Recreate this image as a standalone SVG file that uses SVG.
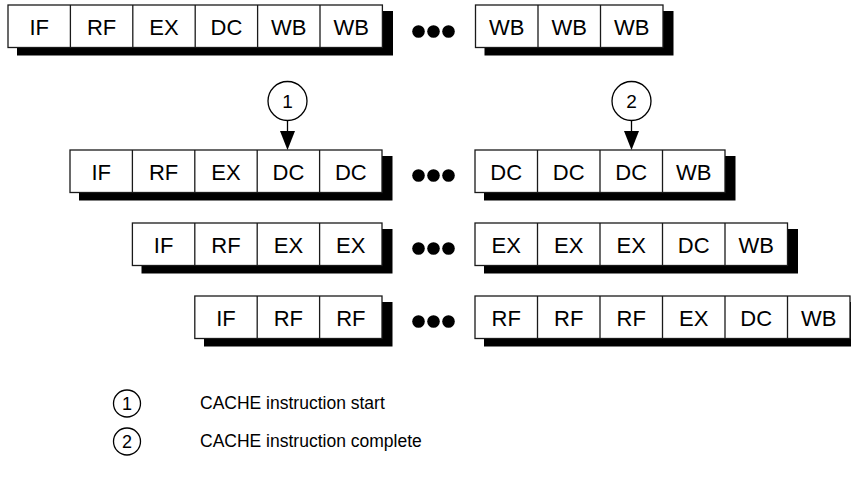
<svg xmlns="http://www.w3.org/2000/svg" width="851" height="482" viewBox="0 0 851 482">
<style>
.sh{fill:#000}
.box{fill:#fff;stroke:#1a1a1a;stroke-width:1.3}
.div{stroke:#1a1a1a;stroke-width:1.3}
.t{font-family:"Liberation Sans",Arial,sans-serif;font-size:22px;fill:#000;text-anchor:middle}
.n{font-family:"Liberation Sans",Arial,sans-serif;font-size:19px;fill:#000;text-anchor:middle}
.ln{font-family:"Liberation Sans",Arial,sans-serif;font-size:18px;fill:#000;text-anchor:middle}
.lg{font-family:"Liberation Sans",Arial,sans-serif;font-size:17.5px;fill:#000}
.c{fill:#fff;stroke:#000;stroke-width:1.3}
.dot{fill:#000}
.ar{stroke:#000;stroke-width:1.3;fill:none}
.ah{fill:#000}
</style>

<!-- Row 1 -->
<g id="row1-left">
<rect class="sh" x="17" y="11" width="376" height="44.5"/>
<rect class="box" x="8" y="5" width="374.4" height="42.5"/>
<line class="div" x1="70.4" y1="5" x2="70.4" y2="47.5"/><line class="div" x1="132.8" y1="5" x2="132.8" y2="47.5"/><line class="div" x1="195.2" y1="5" x2="195.2" y2="47.5"/><line class="div" x1="257.6" y1="5" x2="257.6" y2="47.5"/><line class="div" x1="320" y1="5" x2="320" y2="47.5"/>
<text class="t" x="39.2" y="34.5">IF</text><text class="t" x="101.6" y="34.5">RF</text><text class="t" x="164" y="34.5">EX</text><text class="t" x="226.4" y="34.5">DC</text><text class="t" x="288.8" y="34.5">WB</text><text class="t" x="351.2" y="34.5">WB</text>
</g>
<g id="row1-dots"><circle class="dot" cx="418.5" cy="31.5" r="6.3"/><circle class="dot" cx="433.5" cy="31.5" r="6.3"/><circle class="dot" cx="448.5" cy="31.5" r="6.3"/></g>
<g id="row1-right">
<rect class="sh" x="484.5" y="11" width="189" height="44.5"/>
<rect class="box" x="475.5" y="5" width="187.5" height="42.5"/>
<line class="div" x1="538" y1="5" x2="538" y2="47.5"/><line class="div" x1="600.5" y1="5" x2="600.5" y2="47.5"/>
<text class="t" x="506.75" y="34.5">WB</text><text class="t" x="569.25" y="34.5">WB</text><text class="t" x="631.75" y="34.5">WB</text>
</g>

<!-- Row 2 -->
<g id="row2-left">
<rect class="sh" x="79" y="156" width="313.5" height="44.5"/>
<rect class="box" x="70" y="150" width="312" height="42.5"/>
<line class="div" x1="132.4" y1="150" x2="132.4" y2="192.5"/><line class="div" x1="194.8" y1="150" x2="194.8" y2="192.5"/><line class="div" x1="257.2" y1="150" x2="257.2" y2="192.5"/><line class="div" x1="319.6" y1="150" x2="319.6" y2="192.5"/>
<text class="t" x="101.2" y="179.5">IF</text><text class="t" x="163.6" y="179.5">RF</text><text class="t" x="226" y="179.5">EX</text><text class="t" x="288.4" y="179.5">DC</text><text class="t" x="350.8" y="179.5">DC</text>
</g>
<g id="row2-dots"><circle class="dot" cx="418.5" cy="175.5" r="6.3"/><circle class="dot" cx="433.5" cy="175.5" r="6.3"/><circle class="dot" cx="448.5" cy="175.5" r="6.3"/></g>
<g id="row2-right">
<rect class="sh" x="484" y="156" width="251.5" height="44.5"/>
<rect class="box" x="475" y="150" width="250" height="42.5"/>
<line class="div" x1="537.5" y1="150" x2="537.5" y2="192.5"/><line class="div" x1="600" y1="150" x2="600" y2="192.5"/><line class="div" x1="662.5" y1="150" x2="662.5" y2="192.5"/>
<text class="t" x="506.25" y="179.5">DC</text><text class="t" x="568.75" y="179.5">DC</text><text class="t" x="631.25" y="179.5">DC</text><text class="t" x="693.75" y="179.5">WB</text>
</g>

<!-- Row 3 -->
<g id="row3-left">
<rect class="sh" x="141.5" y="229" width="251" height="44.5"/>
<rect class="box" x="132.4" y="223" width="249.6" height="42.5"/>
<line class="div" x1="194.8" y1="223" x2="194.8" y2="265.5"/><line class="div" x1="257.2" y1="223" x2="257.2" y2="265.5"/><line class="div" x1="319.6" y1="223" x2="319.6" y2="265.5"/>
<text class="t" x="163.6" y="252.5">IF</text><text class="t" x="226" y="252.5">RF</text><text class="t" x="288.4" y="252.5">EX</text><text class="t" x="350.8" y="252.5">EX</text>
</g>
<g id="row3-dots"><circle class="dot" cx="418.5" cy="248.5" r="6.3"/><circle class="dot" cx="433.5" cy="248.5" r="6.3"/><circle class="dot" cx="448.5" cy="248.5" r="6.3"/></g>
<g id="row3-right">
<rect class="sh" x="484" y="229" width="314" height="44.5"/>
<rect class="box" x="475" y="223" width="312.5" height="42.5"/>
<line class="div" x1="537.5" y1="223" x2="537.5" y2="265.5"/><line class="div" x1="600" y1="223" x2="600" y2="265.5"/><line class="div" x1="662.5" y1="223" x2="662.5" y2="265.5"/><line class="div" x1="725" y1="223" x2="725" y2="265.5"/>
<text class="t" x="506.25" y="252.5">EX</text><text class="t" x="568.75" y="252.5">EX</text><text class="t" x="631.25" y="252.5">EX</text><text class="t" x="693.75" y="252.5">DC</text><text class="t" x="756.25" y="252.5">WB</text>
</g>

<!-- Row 4 -->
<g id="row4-left">
<rect class="sh" x="204" y="302" width="188.5" height="44.5"/>
<rect class="box" x="194.8" y="296" width="187.2" height="42.5"/>
<line class="div" x1="257.2" y1="296" x2="257.2" y2="338.5"/><line class="div" x1="319.6" y1="296" x2="319.6" y2="338.5"/>
<text class="t" x="226" y="325.5">IF</text><text class="t" x="288.4" y="325.5">RF</text><text class="t" x="350.8" y="325.5">RF</text>
</g>
<g id="row4-dots"><circle class="dot" cx="418.5" cy="321.5" r="6.3"/><circle class="dot" cx="433.5" cy="321.5" r="6.3"/><circle class="dot" cx="448.5" cy="321.5" r="6.3"/></g>
<g id="row4-right">
<rect class="sh" x="484" y="302" width="376" height="44.5"/>
<rect class="box" x="475" y="296" width="375" height="42.5"/>
<line class="div" x1="537.5" y1="296" x2="537.5" y2="338.5"/><line class="div" x1="600" y1="296" x2="600" y2="338.5"/><line class="div" x1="662.5" y1="296" x2="662.5" y2="338.5"/><line class="div" x1="725" y1="296" x2="725" y2="338.5"/><line class="div" x1="787.5" y1="296" x2="787.5" y2="338.5"/>
<text class="t" x="506.25" y="325.5">RF</text><text class="t" x="568.75" y="325.5">RF</text><text class="t" x="631.25" y="325.5">RF</text><text class="t" x="693.75" y="325.5">EX</text><text class="t" x="756.25" y="325.5">DC</text><text class="t" x="818.75" y="325.5">WB</text>
</g>

<!-- Callout markers -->
<g id="marker1"><circle class="c" cx="287.5" cy="101" r="19.5"/><text class="n" x="287.5" y="107.5">1</text></g>
<g id="marker2"><circle class="c" cx="631.5" cy="101" r="19.5"/><text class="n" x="631.5" y="107.5">2</text></g>

<g id="connectors">
<line class="ar" x1="287.5" y1="120.5" x2="287.5" y2="131"/>
<path class="ah" d="M280,131 L295,131 L287.5,150 Z"/>
<line class="ar" x1="631.5" y1="120.5" x2="631.5" y2="131"/>
<path class="ah" d="M624,131 L639,131 L631.5,150 Z"/>
</g>

<!-- Legend -->
<g id="legend1"><circle class="c" cx="127" cy="403.5" r="13.5"/><text class="ln" x="127" y="409.5">1</text><text class="lg" x="200" y="409">CACHE instruction start</text></g>
<g id="legend2"><circle class="c" cx="127" cy="441.5" r="13.5"/><text class="ln" x="127" y="447.5">2</text><text class="lg" x="200" y="447">CACHE instruction complete</text></g>
</svg>
